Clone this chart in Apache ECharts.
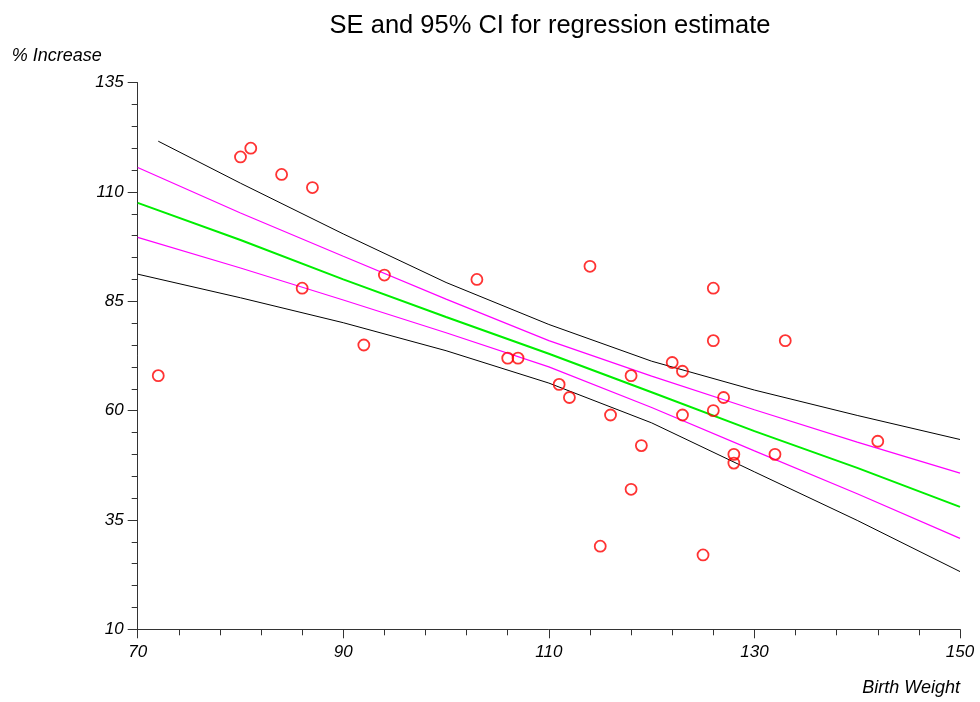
<!DOCTYPE html>
<html>
<head>
<meta charset="utf-8">
<script src="https://cdn.jsdelivr.net/npm/echarts@6/dist/echarts.min.js"></script>
<style>html,body{margin:0;padding:0;background:#fff}#c{width:980px;height:702px}</style>
</head>
<body>
<div id="c"></div>
<script>
// Observed data: Birth Weight vs % Increase
const birthWeight = [72, 80, 81, 84, 87, 86, 92, 94, 103, 106, 107, 111, 112, 114, 115, 116, 118, 118, 119, 122, 123, 123, 125, 126, 126, 126, 127, 128, 128, 132, 133, 142];
const pctIncrease = [68, 118, 120, 114, 111, 88, 75, 91, 90, 72, 72, 66, 63, 93, 29, 59, 68, 42, 52, 71, 69, 59, 27, 88, 76, 60, 63, 50, 48, 50, 76, 53];

// Lines
const lineX = [70, 80, 90, 100, 110, 120, 130, 140, 150];
const fitLine = [107.5, 99.0, 90.0, 81.4, 73.0, 64.2, 55.3, 46.9, 38.0];
const seUpper = [115.6, 105.2, 95.3, 85.5, 76.0, 67.9, 60.2, 52.8, 45.7];
const seLower = [99.6, 92.6, 85.3, 77.8, 70.0, 60.7, 50.8, 41.0, 30.8];
const ciUpperX = [72, 80, 90, 100, 110, 120, 130, 140, 150];
const ciUpper = [121.6, 112.0, 100.4, 89.3, 79.7, 71.3, 64.7, 58.9, 53.4];
const ciLower = [91.2, 85.8, 80.1, 73.7, 66.3, 57.2, 46.0, 34.9, 23.2];

const xTicks = [70, 90, 110, 130, 150];
const yTicks = [10, 35, 60, 85, 110, 135];

const pair = (xs, ys) => xs.map((x, i) => [x, ys[i]]);

const chart = echarts.init(document.getElementById('c'), null, {renderer: 'canvas'});
const FONT = 'Liberation Sans, Arial, sans-serif';
const labelFont = {fontFamily: FONT, fontStyle: 'italic', fontSize: 17, color: '#000'};
const lineSeries = (name, xs, ys, color, width) => ({
  name, type: 'line', data: pair(xs, ys), showSymbol: false, symbol: 'none',
  smooth: false,
  lineStyle: {color, width}, silent: true, animation: false, z: 2
});

chart.setOption({
  animation: false,
  backgroundColor: '#fff',
  title: {
    text: 'SE and 95% CI for regression estimate',
    left: 545, top: 8, textAlign: 'center',
    textStyle: {fontFamily: FONT, fontSize: 25.5, fontWeight: 'normal', color: '#000'}
  },
  grid: {left: 137.7, right: 20, top: 82.6, bottom: 72.7, containLabel: false},
  xAxis: {
    type: 'value', min: xTicks[0], max: xTicks[xTicks.length - 1], interval: 20,
    name: 'Birth Weight', nameLocation: 'end', nameGap: 0,
    nameTextStyle: Object.assign({}, labelFont, {fontSize: 18, align: 'right', verticalAlign: 'top', padding: [50, 0, 0, 0]}),
    axisLine: {show: true, onZero: false, lineStyle: {color: '#333', width: 1}},
    axisTick: {show: true, length: 9, lineStyle: {color: '#333'}},
    minorTick: {show: true, splitNumber: 5, length: 6, lineStyle: {color: '#333'}},
    splitLine: {show: false},
    axisLabel: Object.assign({}, labelFont, {margin: 14})
  },
  yAxis: {
    type: 'value', min: yTicks[0], max: yTicks[yTicks.length - 1], interval: 25,
    name: '% Increase', nameLocation: 'end', nameGap: 18,
    nameTextStyle: Object.assign({}, labelFont, {fontSize: 18, align: 'right', padding: [0, 36, 0, 0]}),
    axisLine: {show: true, onZero: false, lineStyle: {color: '#333', width: 1}},
    axisTick: {show: true, length: 10, lineStyle: {color: '#333'}},
    minorTick: {show: true, splitNumber: 5, length: 6, lineStyle: {color: '#333'}},
    splitLine: {show: false},
    axisLabel: Object.assign({}, labelFont, {margin: 14})
  },
  series: [
    lineSeries('CI upper', ciUpperX, ciUpper, '#000000', 1),
    lineSeries('CI lower', lineX, ciLower, '#000000', 1),
    lineSeries('SE upper', lineX, seUpper, '#ff00ff', 1.2),
    lineSeries('SE lower', lineX, seLower, '#ff00ff', 1.2),
    lineSeries('Fit', lineX, fitLine, '#00ee00', 2),
    {
      name: 'Observed', type: 'scatter', data: pair(birthWeight, pctIncrease),
      symbol: 'circle', symbolSize: 11,
      itemStyle: {color: 'rgba(0,0,0,0)', borderColor: '#ff0000', borderWidth: 1.8},
      z: 5
    }
  ]
});
</script>
</body>
</html>
